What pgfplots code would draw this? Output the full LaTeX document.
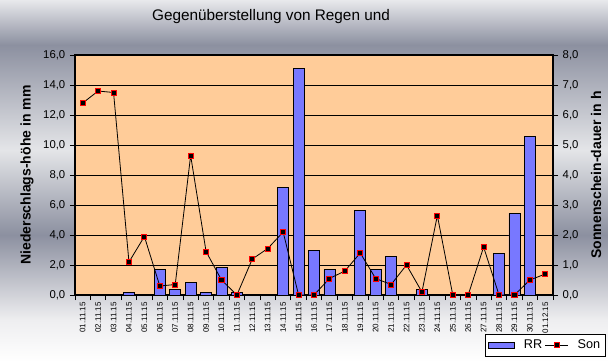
\documentclass[border=0pt]{standalone}
\usepackage{fontspec}
\setmainfont{Liberation Sans}
\usepackage{pgfplots}
\pgfplotsset{compat=1.18}
\definecolor{bgdark}{RGB}{140,144,160}
\definecolor{bglight}{RGB}{228,229,232}
\definecolor{bgtop}{RGB}{232,233,236}
\definecolor{bgbottom}{RGB}{238,238,240}
\definecolor{plotbg}{RGB}{255,204,153}
\definecolor{barblue}{RGB}{120,120,255}
\pgfdeclareverticalshading{bgshade}{100bp}{color(0bp)=(white); color(25bp)=(white); color(30.8bp)=(bgbottom); color(42.55bp)=(bgdark); color(54.3bp)=(bglight); color(68.8bp)=(bgdark); color(75bp)=(bgtop); color(100bp)=(bgtop)}
\begin{document}
\begin{tikzpicture}
\shade[shading=bgshade] (0pt,0pt) rectangle (456pt,271.5pt);
\node[font=\fontsize{11.5}{13}\selectfont, anchor=center] at (203.25pt,258.75pt) {Gegenüberstellung von Regen und};
\begin{axis}[
  at={(56.25pt,50.25pt)}, anchor=south west,
  scale only axis, width=358.5pt, height=180pt,
  xmin=-0.5, xmax=30.5, ymin=0, ymax=16,
  xtick={-0.5,0.5,...,30.5},
  x tick label as interval,
  xticklabels={01.11.15,02.11.15,03.11.15,04.11.15,05.11.15,06.11.15,07.11.15,08.11.15,09.11.15,10.11.15,11.11.15,12.11.15,13.11.15,14.11.15,15.11.15,16.11.15,17.11.15,18.11.15,19.11.15,20.11.15,21.11.15,22.11.15,23.11.15,24.11.15,25.11.15,26.11.15,27.11.15,28.11.15,29.11.15,30.11.15,01.12.15},
  x tick label style={rotate=90, anchor=east, font=\fontsize{6}{7}\selectfont, inner sep=1.5pt},
  ytick={0,2,...,16},
  yticklabel style={font=\fontsize{8.5}{10}\selectfont, /pgf/number format/fixed, /pgf/number format/fixed zerofill, /pgf/number format/precision=1, /pgf/number format/use comma, /pgf/number format/assume math mode=true},
  tick align=outside, major tick length=3.75pt, tick pos=left,
  tick style={black, line width=0.6pt},
  ymajorgrids, grid style={black, line width=0.6pt},
  axis line style={black, line width=0.8pt},
  axis background/.style={fill=plotbg},
  ylabel={Niederschlags-höhe in mm},
  ylabel style={at={(axis description cs:-0.1004,0.5)}, anchor=center, font=\bfseries\fontsize{10.5}{12}\selectfont},
]
\addplot[ybar, bar width=8.25pt, fill=barblue, draw=black, line width=0.6pt] coordinates {
(3,0.2) (5,1.7) (6,0.4) (7,0.85) (8,0.2) (9,1.85) (10,0.2) (13,7.2) (14,15.1) (15,3.0) (16,1.7) (18,5.65) (19,1.7) (20,2.6) (22,0.4) (27,2.8) (28,5.45) (29,10.6)
};
\end{axis}
\begin{axis}[
  at={(56.25pt,50.25pt)}, anchor=south west,
  scale only axis, width=358.5pt, height=180pt,
  xmin=-0.5, xmax=30.5, ymin=0, ymax=8,
  axis x line=none, axis y line*=right,
  ytick={0,1,...,8},
  yticklabel style={font=\fontsize{8.5}{10}\selectfont, /pgf/number format/fixed, /pgf/number format/fixed zerofill, /pgf/number format/precision=1, /pgf/number format/use comma, /pgf/number format/assume math mode=true},
  tick align=outside, major tick length=3.75pt,
  tick style={black, line width=0.6pt},
  axis line style={black, line width=0.8pt},
  ylabel={Sonnenschein-dauer in h},
  ylabel style={at={(axis description cs:1.090,0.5)}, anchor=center, rotate=0, font=\bfseries\fontsize{10.5}{12}\selectfont},
  legend style={at={(1.1109,-0.1625)}, anchor=north east, draw=black, line width=0.6pt, fill=white, font=\fontsize{9.5}{11}\selectfont, legend columns=-1, /tikz/every odd column/.append style={column sep=5pt}, inner sep=2pt},
]
\addlegendimage{legend image code/.code={\draw[fill=barblue, draw=black, line width=0.6pt] (0pt,-2.25pt) rectangle (19.5pt,2.25pt);}}
\addplot[black, line width=0.6pt, mark=square*, mark size=1.9pt, mark options={fill=black, draw=red, line width=0.7pt}] coordinates {
(0,6.4) (1,6.8) (2,6.75) (3,1.1) (4,1.95) (5,0.3) (6,0.35) (7,4.65) (8,1.45) (9,0.5) (10,0.0) (11,1.2) (12,1.55) (13,2.1) (14,0) (15,0) (16,0.55) (17,0.8) (18,1.4) (19,0.55) (20,0.35) (21,1.0) (22,0.1) (23,2.65) (24,0) (25,0) (26,1.6) (27,0) (28,0) (29,0.5) (30,0.7)
};
\legend{RR, Son}
\end{axis}
\pgfresetboundingbox
\path (0pt,0pt) rectangle (456pt,271.5pt);
\end{tikzpicture}
\end{document}
